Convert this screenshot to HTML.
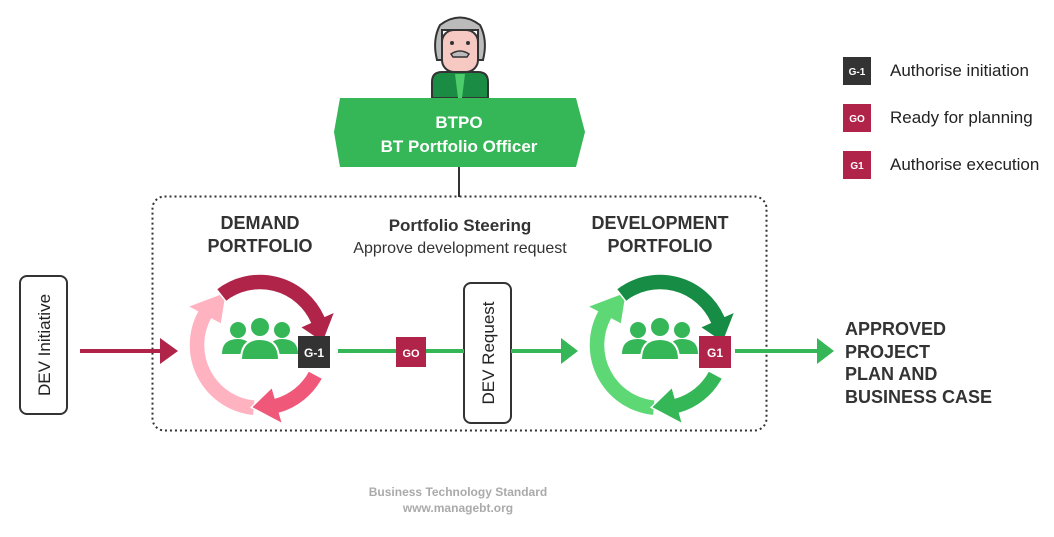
<!DOCTYPE html>
<html><head><meta charset="utf-8"><style>
body{margin:0;background:#fff;}
svg text{font-family:"Liberation Sans",sans-serif;}
</style></head><body>
<svg id="s" width="1054" height="532" viewBox="0 0 1054 532" xmlns="http://www.w3.org/2000/svg">
<rect x="152.5" y="196.5" width="614" height="234" rx="12" fill="none" stroke="#333" stroke-width="2" stroke-dasharray="2 3"/>
<line x1="459" y1="165" x2="459" y2="197" stroke="#333" stroke-width="2"/>
<!-- person -->
<path d="M432 98 L432 82 Q432 72 442 72 L478 72 Q488 72 488 82 L488 98Z" fill="#1a8c44" stroke="#333" stroke-width="2"/>
<path d="M455 74 L465 74 L462 98 L458 98Z" fill="#4ccc6a"/>
<path d="M437 60 Q432 40 440 25 Q460 10 480 25 Q488 40 483 60 L478 60 L478 30 L442 30 L442 60Z" fill="#bbb" stroke="#333" stroke-width="2"/>
<rect x="442" y="30" width="36" height="42" rx="12" fill="#f6c9c3" stroke="#333" stroke-width="2"/>
<circle cx="452" cy="43" r="2" fill="#333"/><circle cx="468" cy="43" r="2" fill="#333"/>
<path d="M451 54 Q460 48 469 54 L467 57 L453 57Z" fill="#bbb" stroke="#333" stroke-width="1.5"/>
<polygon points="340,98 576,98 585,132 576,167 340,167 334,132" fill="#35b757"/>
<text x="459" y="128" font-size="17" font-weight="bold" fill="#fff" text-anchor="middle">BTPO</text>
<text x="459" y="152" font-size="17" font-weight="bold" fill="#fff" text-anchor="middle">BT Portfolio Officer</text>
<g id="cyc"></g>
<!-- titles -->
<text x="260" y="229" font-size="18" font-weight="bold" fill="#333" text-anchor="middle">DEMAND</text>
<text x="260" y="252" font-size="18" font-weight="bold" fill="#333" text-anchor="middle">PORTFOLIO</text>
<text x="460" y="231" font-size="17" font-weight="bold" fill="#333" text-anchor="middle">Portfolio Steering</text>
<text x="460" y="253" font-size="16" fill="#333" text-anchor="middle">Approve development request</text>
<text x="660" y="229" font-size="18" font-weight="bold" fill="#333" text-anchor="middle">DEVELOPMENT</text>
<text x="660" y="252" font-size="18" font-weight="bold" fill="#333" text-anchor="middle">PORTFOLIO</text>
<!-- boxes -->
<rect x="20" y="276" width="47" height="138" rx="7" fill="#fff" stroke="#333" stroke-width="2"/>
<text transform="translate(50,345) rotate(-90)" font-size="17" fill="#222" text-anchor="middle">DEV Initiative</text>
<rect x="464" y="283" width="47" height="140" rx="7" fill="#fff" stroke="#333" stroke-width="2"/>
<!-- connectors -->
<line x1="80" y1="351" x2="162" y2="351" stroke="#b0244a" stroke-width="4"/>
<polygon points="160,338 178,351 160,364" fill="#b0244a"/>
<line x1="338" y1="351" x2="464" y2="351" stroke="#35b757" stroke-width="4"/>
<line x1="511" y1="351" x2="562" y2="351" stroke="#35b757" stroke-width="4"/>
<polygon points="561,338 578,351 561,364" fill="#35b757"/>
<line x1="735" y1="351" x2="818" y2="351" stroke="#35b757" stroke-width="4"/>
<polygon points="817,338 834,351 817,364" fill="#35b757"/>
<text transform="translate(494,353) rotate(-90)" font-size="17" fill="#222" text-anchor="middle">DEV Request</text>
<rect x="396" y="337" width="30" height="30" fill="#b0244a"/>
<text x="411" y="357" font-size="11" font-weight="bold" fill="#fff" text-anchor="middle">GO</text>
<rect x="298" y="336" width="32" height="32" fill="#333"/>
<text x="314" y="357" font-size="12" font-weight="bold" fill="#fff" text-anchor="middle">G-1</text>
<rect x="699" y="336" width="32" height="32" fill="#b0244a"/>
<text x="715" y="357" font-size="12" font-weight="bold" fill="#fff" text-anchor="middle">G1</text>
<g font-size="18" font-weight="bold" fill="#333">
<text x="845" y="335">APPROVED</text><text x="845" y="358">PROJECT</text>
<text x="845" y="380">PLAN AND</text><text x="845" y="403">BUSINESS CASE</text></g>
<!-- legend -->
<rect x="843" y="57" width="28" height="28" fill="#333"/><text x="857" y="75" font-size="10" font-weight="bold" fill="#fff" text-anchor="middle">G-1</text>
<rect x="843" y="104" width="28" height="28" fill="#b0244a"/><text x="857" y="122" font-size="10" font-weight="bold" fill="#fff" text-anchor="middle">GO</text>
<rect x="843" y="151" width="28" height="28" fill="#b0244a"/><text x="857" y="169" font-size="10" font-weight="bold" fill="#fff" text-anchor="middle">G1</text>
<g font-size="17" fill="#222">
<text x="890" y="76">Authorise initiation</text>
<text x="890" y="123">Ready for planning</text>
<text x="890" y="170">Authorise execution</text></g>
<text x="458" y="496" font-size="12" font-weight="bold" fill="#aaa" text-anchor="middle">Business Technology Standard</text>
<text x="458" y="512" font-size="12" font-weight="bold" fill="#aaa" text-anchor="middle">www.managebt.org</text>
</svg>
<script>
var g=document.getElementById('cyc'),ns='http://www.w3.org/2000/svg';
function P(cx,cy,r,a){a=a*Math.PI/180;return [cx+r*Math.cos(a),cy+r*Math.sin(a)];}
function arrow(cx,cy,r,a0,a1,tip,w,col){
 var o0=P(cx,cy,r+w/2,a0),o1=P(cx,cy,r+w/2,a1),i1=P(cx,cy,r-w/2,a1),i0=P(cx,cy,r-w/2,a0);
 var b1=P(cx,cy,r+w*1.2,a1),b2=P(cx,cy,r-w*1.2,a1),t=P(cx,cy,r,tip);
 var big=(a1-a0)>180?1:0;
 var d='M'+o0+' A'+(r+w/2)+' '+(r+w/2)+' 0 '+big+' 1 '+o1+' L'+b1+' L'+t+' L'+b2+' L'+i1+' A'+(r-w/2)+' '+(r-w/2)+' 0 '+big+' 0 '+i0+'Z';
 var p=document.createElementNS(ns,'path');p.setAttribute('d',d);p.setAttribute('fill',col);p.setAttribute('stroke','#fff');p.setAttribute('stroke-width','1.5');g.appendChild(p);}
function people(cx,cy,col){
 var s='<circle cx="'+(cx-22)+'" cy="'+(cy-11)+'" r="8"/><circle cx="'+(cx+22)+'" cy="'+(cy-11)+'" r="8"/>'+
 '<path d="M'+(cx-38)+' '+(cy+13)+' Q'+(cx-38)+' '+(cy-2)+' '+(cx-22)+' '+(cy-2)+' Q'+(cx-8)+' '+(cy-2)+' '+(cx-8)+' '+(cy+13)+'Z"/>'+
 '<path d="M'+(cx+8)+' '+(cy+13)+' Q'+(cx+8)+' '+(cy-2)+' '+(cx+22)+' '+(cy-2)+' Q'+(cx+38)+' '+(cy-2)+' '+(cx+38)+' '+(cy+13)+'Z"/>'+
 '<path d="M'+(cx-19)+' '+(cy+19)+' Q'+(cx-19)+' '+(cy-2)+' '+cx+' '+(cy-2)+' Q'+(cx+19)+' '+(cy-2)+' '+(cx+19)+' '+(cy+19)+'Z" stroke="#fff" stroke-width="2"/>'+
 '<circle cx="'+cx+'" cy="'+(cy-14)+'" r="10" stroke="#fff" stroke-width="2"/>';
 var e=document.createElementNS(ns,'g');e.setAttribute('fill',col);e.innerHTML=s;g.appendChild(e);}
function cycle(cx,cy,c1,c2,c3){
 arrow(cx,cy,63,95,208,238,16,c3);
 arrow(cx,cy,63,-128,-24,-2,16,c1);
 arrow(cx,cy,63,28,74,98,16,c2);
 people(cx,cy-4,'#35b757');}
cycle(260,345,'#b0244a','#f0587a','#ffb3c0');
cycle(660,345,'#178c44','#35b757','#5dd874');
</script>
</body></html>
